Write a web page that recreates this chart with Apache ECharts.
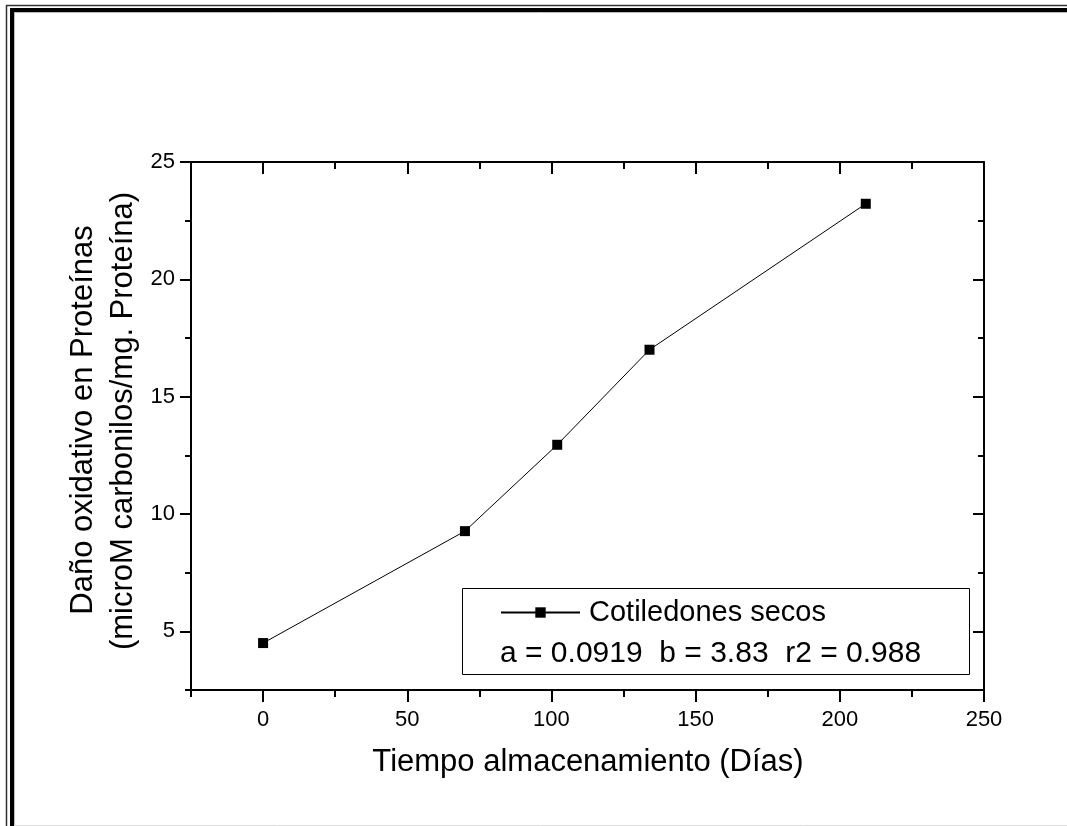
<!DOCTYPE html>
<html>
<head>
<meta charset="utf-8">
<script src="https://cdn.jsdelivr.net/npm/echarts@6/dist/echarts.min.js"></script>
<style>
html,body{margin:0;padding:0;background:#fff;}
#chart{width:1067px;height:826px;}
</style>
</head>
<body>
<div id="chart"></div>
<script>
// ---- data ----
const seriesName = 'Cotiledones secos';
const xValues = [0, 70, 102, 134, 209];
const yValues = [4.5, 9.27, 12.95, 17.0, 23.22];
const xTickLabels = [0, 50, 100, 150, 200, 250];
const yTickLabels = [5, 10, 15, 20, 25];
const xAxisTitle = 'Tiempo almacenamiento (Días)';
const yAxisTitle1 = 'Daño oxidativo en Proteínas';
const yAxisTitle2 = '(microM carbonilos/mg. Proteína)';
const fitText = 'a = 0.0919  b = 3.83  r2 = 0.988';

const FONT = 'Liberation Sans, Arial, sans-serif';
const X_MIN = -25, X_MAX = 250, X_MINOR = 25;
const Y_MIN = 2.5, Y_MAX = 25, Y_MINOR = 2.5;

function axis(kind, pos, opts) {
  const isX = kind === 'x';
  const base = {
    type: 'value',
    position: pos,
    min: isX ? X_MIN : Y_MIN,
    max: isX ? X_MAX : Y_MAX,
    interval: isX ? X_MINOR : Y_MINOR,
    splitLine: {show: false},
    axisLine: {show: !!opts.line, onZero: false, lineStyle: {color: '#000', width: 2}},
    axisTick: {show: true, inside: !!opts.inside, length: opts.len, lineStyle: {color: '#000', width: 2}},
    axisLabel: {show: false}
  };
  if (opts.custom) base.axisTick.customValues = opts.custom;
  if (opts.label) base.axisLabel = opts.label;
  return base;
}

const chart = echarts.init(document.getElementById('chart'), null, {renderer: 'canvas'});
const option = {
  animation: false,
  backgroundColor: '#fff',
  grid: {left: 191, right: 83, top: 162, bottom: 136, containLabel: false},
  xAxis: [
    axis('x', 'bottom', {line: true, len: 7, label: {
      show: true, color: '#000', fontFamily: FONT, fontSize: 22, margin: 19,
      formatter: v => (xTickLabels.indexOf(v) >= 0 ? String(v) : '')
    }}),
    axis('x', 'bottom', {line: false, len: 12, custom: xTickLabels}),
    axis('x', 'top', {line: true, len: 7, inside: true}),
    axis('x', 'top', {line: false, len: 12, inside: true, custom: xTickLabels})
  ],
  yAxis: [
    axis('y', 'left', {line: true, len: 6, label: {
      show: true, color: '#000', fontFamily: FONT, fontSize: 22, margin: 16,
      formatter: v => (yTickLabels.indexOf(v) >= 0 ? String(v) : '')
    }}),
    axis('y', 'left', {line: false, len: 11, custom: yTickLabels}),
    axis('y', 'right', {line: true, len: 6, inside: true}),
    axis('y', 'right', {line: false, len: 11, inside: true, custom: yTickLabels})
  ],
  legend: {
    show: true,
    left: 495, top: 593,
    itemWidth: 79, itemHeight: 13,
    data: [seriesName],
    textStyle: {fontFamily: FONT, fontSize: 29, color: '#000', padding: [0, 0, 0, 4]}
  },
  series: [{
    name: seriesName,
    type: 'line',
    xAxisIndex: 0, yAxisIndex: 0,
    data: xValues.map((x, i) => [x, yValues[i]]),
    symbol: 'rect', symbolSize: 10,
    itemStyle: {color: '#000'},
    lineStyle: {color: '#000', width: 1},
    z: 5
  }],
  graphic: [
    // page frame
    {type: 'line', shape: {x1: 6, y1: 5.5, x2: 1067, y2: 5.5}, style: {stroke: '#333', lineWidth: 1.5}},
    {type: 'line', shape: {x1: 6.5, y1: 5, x2: 6.5, y2: 826}, style: {stroke: '#333', lineWidth: 1.5}},
    {type: 'rect', shape: {x: 10, y: 8, width: 1057, height: 4}, style: {fill: '#000'}},
    {type: 'rect', shape: {x: 10, y: 8, width: 4, height: 818}, style: {fill: '#000'}},
    {type: 'line', shape: {x1: 14, y1: 12.5, x2: 1067, y2: 12.5}, style: {stroke: '#bbb', lineWidth: 1}},
    {type: 'line', shape: {x1: 14.5, y1: 12, x2: 14.5, y2: 826}, style: {stroke: '#bbb', lineWidth: 1}},
    {type: 'line', shape: {x1: 14, y1: 825.5, x2: 1067, y2: 825.5}, style: {stroke: '#ddd', lineWidth: 1}},
    // legend box
    {type: 'rect', z: 1, shape: {x: 462.5, y: 588.5, width: 507, height: 86}, style: {fill: '#fff', stroke: '#000', lineWidth: 1}},
    {type: 'text', z: 10, x: 500, y: 654, style: {text: fitText, font: '30px ' + FONT, fill: '#000', textAlign: 'left', textVerticalAlign: 'middle'}},
    // axis titles
    {type: 'text', x: 588, y: 762, style: {text: xAxisTitle, font: '31px ' + FONT, fill: '#000', textAlign: 'center', textVerticalAlign: 'middle'}},
    {type: 'text', x: 83, y: 420, rotation: Math.PI / 2, style: {text: yAxisTitle1, font: '31px ' + FONT, fill: '#000', textAlign: 'center', textVerticalAlign: 'middle'}},
    {type: 'text', x: 123, y: 421, rotation: Math.PI / 2, style: {text: yAxisTitle2, font: '31px ' + FONT, fill: '#000', textAlign: 'center', textVerticalAlign: 'middle'}}
  ]
};
chart.setOption(option);
</script>
</body>
</html>
